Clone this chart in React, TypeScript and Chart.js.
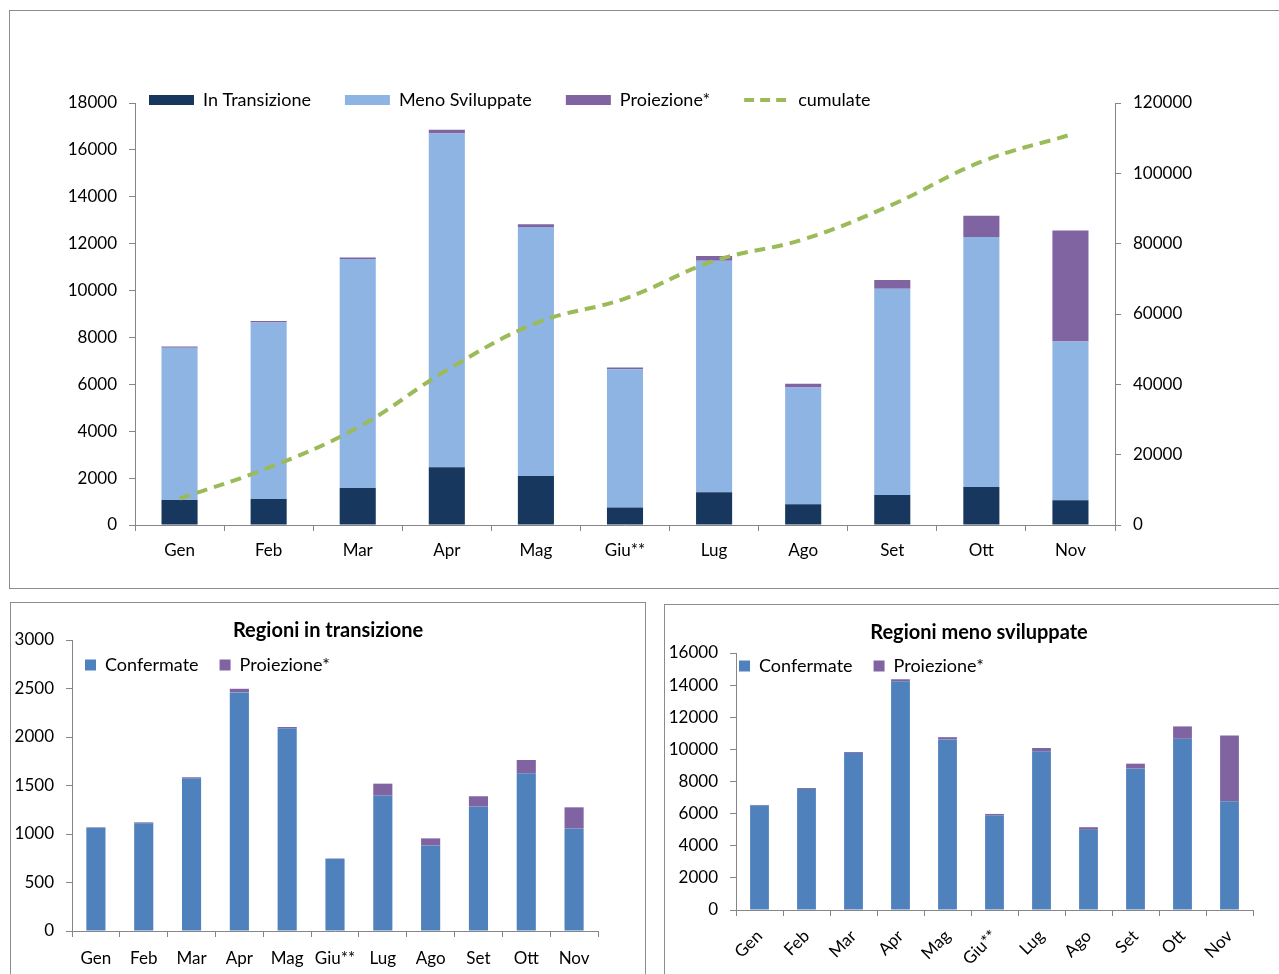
import React, { useEffect, useRef } from 'react';
import { Chart, registerables } from 'chart.js';

Chart.register(...registerables);

// ---------------- DATA ----------------
const months = ['Gen', 'Feb', 'Mar', 'Apr', 'Mag', 'Giu**', 'Lug', 'Ago', 'Set', 'Ott', 'Nov'];

// top chart
const inTransizione = [1065, 1110, 1575, 2460, 2090, 745, 1395, 880, 1282, 1626, 1055];
const menoSviluppate = [6500, 7530, 9770, 14240, 10620, 5900, 9880, 4990, 8800, 10660, 6770];
const proiezioneTot = [45, 60, 70, 160, 115, 70, 200, 160, 370, 900, 4740];
const cumulate = [7500, 16300, 27700, 44000, 57400, 64400, 75100, 81200, 91100, 103300, 111000];

// bottom-left: Regioni in transizione
const transConfermate = [1065, 1110, 1575, 2460, 2090, 745, 1395, 880, 1282, 1626, 1055];
const transProiezione = [5, 10, 10, 37, 13, 3, 124, 75, 107, 137, 220];

// bottom-right: Regioni meno sviluppate
const menoConfermate = [6500, 7530, 9770, 14240, 10620, 5900, 9880, 4990, 8800, 10660, 6770];
const menoProiezione = [40, 60, 60, 125, 140, 80, 205, 165, 310, 770, 4100];

const leftTicksTop = { min: 0, max: 18000, step: 2000 };
const rightTicksTop = { min: 0, max: 120000, step: 20000 };
const ticksBL = { min: 0, max: 3000, step: 500 };
const ticksBR = { min: 0, max: 16000, step: 2000 };

// ---------------- STYLE ----------------
const FONT = 'Lato, "Open Sans", sans-serif';
const AX = '#868686';
const C_TRANS = '#17375E';
const C_MENO = '#8EB4E3';
const C_PROJ = '#8064A2';
const C_GREEN = '#9BBB59';
const C_CONF = '#4F81BD';

function fixedLegend(left: number, centerY: number, pad: number, fs: number, titleShift = 0) {
  return {
    id: 'fixedLegend',
    beforeLayout(chart: any) {
      const lg = chart.legend;
      if (lg && !lg.__patched) {
        const orig = lg.fit.bind(lg);
        lg.fit = function () {
          orig();
          this.height = 0;
        };
        lg.__patched = true;
      }
    },
    beforeDraw(chart: any) {
      const lg = chart.legend;
      if (lg) {
        lg.left = left - pad;
        lg.right = chart.width;
        lg.top = centerY - pad - fs / 2;
        lg.bottom = lg.top + 60;
      }
      const tb = chart.titleBlock;
      if (tb && titleShift) {
        tb.left = titleShift * 2;
        tb.right = chart.width;
      }
    },
  };
}

const numCb = (v: any) => String(v);

function axisGrid() {
  return {
    display: true,
    drawOnChartArea: false,
    drawTicks: true,
    tickLength: 6,
    color: AX,
    lineWidth: 1,
  };
}

function ChartCanvas({ make, left, top, width, height }: any) {
  const ref = useRef<HTMLCanvasElement>(null);
  useEffect(() => {
    const chart = new Chart(ref.current as HTMLCanvasElement, make());
    return () => chart.destroy();
  }, []);
  return (
    <canvas
      ref={ref}
      width={width}
      height={height}
      style={{ position: 'absolute', left, top, width, height }}
    />
  );
}

function makeTop(): any {
  const fs = 17;
  const lfs = 18;
  return {
    type: 'bar',
    data: {
      labels: months,
      datasets: [
        { label: 'In Transizione', data: inTransizione, backgroundColor: C_TRANS, yAxisID: 'y', order: 1 },
        { label: 'Meno Sviluppate', data: menoSviluppate, backgroundColor: C_MENO, yAxisID: 'y', order: 1 },
        { label: 'Proiezione*', data: proiezioneTot, backgroundColor: C_PROJ, yAxisID: 'y', order: 1 },
        {
          type: 'line',
          label: 'cumulate',
          data: cumulate,
          yAxisID: 'y1',
          borderColor: C_GREEN,
          backgroundColor: C_GREEN,
          borderWidth: 4,
          borderDash: [11, 7],
          pointRadius: 0,
          tension: 0.4,
          order: 0,
        },
      ],
    },
    options: {
      responsive: false,
      animation: false,
      categoryPercentage: 1,
      barPercentage: 0.405,
      layout: { padding: { top: 92, left: 0, right: 0, bottom: 0 } },
      plugins: {
        tooltip: { enabled: false },
        legend: {
          display: true,
          position: 'top',
          align: 'start',
          labels: {
            font: { family: FONT, size: lfs },
            color: '#000',
            padding: 34,
            usePointStyle: true,
            pointStyleWidth: 45,
            boxHeight: 10,
            generateLabels: (chart: any) => {
              const items = (Chart.defaults.plugins.legend.labels as any).generateLabels(chart);
              items.sort((a: any, b: any) => a.datasetIndex - b.datasetIndex);
              return items.map((it: any) => {
                const isLine = it.datasetIndex === 3;
                return {
                  ...it,
                  pointStyle: isLine ? 'line' : 'rect',
                  lineWidth: isLine ? 4 : 0,
                  lineDash: isLine ? [10, 6] : [],
                  strokeStyle: isLine ? C_GREEN : it.strokeStyle,
                };
              });
            },
          },
        },
      },
      scales: {
        x: {
          stacked: true,
          offset: true,
          grid: { ...axisGrid(), offset: true },
          border: { display: true, color: AX, width: 1 },
          ticks: { font: { family: FONT, size: fs }, color: '#000', padding: 9, maxRotation: 0, autoSkip: false },
          afterFit: (s: any) => { s.height = 62; },
        },
        y: {
          stacked: true,
          position: 'left',
          min: leftTicksTop.min,
          max: leftTicksTop.max,
          grid: axisGrid(),
          border: { display: true, color: AX, width: 1 },
          ticks: { stepSize: leftTicksTop.step, font: { family: FONT, size: fs }, color: '#000', padding: 12, callback: numCb },
          afterFit: (s: any) => { s.width = 125; },
        },
        y1: {
          stacked: false,
          position: 'right',
          min: rightTicksTop.min,
          max: rightTicksTop.max,
          grid: axisGrid(),
          border: { display: true, color: AX, width: 1 },
          ticks: { stepSize: rightTicksTop.step, font: { family: FONT, size: fs }, color: '#000', padding: 12, callback: numCb },
          afterFit: (s: any) => { s.width = 164; },
        },
      },
    },
    plugins: [fixedLegend(139, 89, 34, lfs)],
  };
}

function makeSmall(opts: any): any {
  const fs = 17;
  const lfs = 18;
  return {
    type: 'bar',
    data: {
      labels: months,
      datasets: [
        { label: 'Confermate', data: opts.conf, backgroundColor: C_CONF, yAxisID: 'y' },
        { label: 'Proiezione*', data: opts.proj, backgroundColor: C_PROJ, yAxisID: 'y' },
      ],
    },
    options: {
      responsive: false,
      animation: false,
      categoryPercentage: 1,
      barPercentage: 0.4,
      layout: { padding: { top: 0, left: 0, right: 0, bottom: 0 } },
      plugins: {
        tooltip: { enabled: false },
        title: {
          display: true,
          text: opts.title,
          color: '#000',
          font: { family: FONT, size: 20, weight: 'bold', lineHeight: 0.9 },
          padding: { top: opts.titleTop, bottom: opts.titleBottom },
        },
        legend: {
          display: true,
          position: 'top',
          align: 'start',
          labels: {
            font: { family: FONT, size: lfs },
            color: '#000',
            padding: 21,
            boxWidth: 11,
            boxHeight: 11,
          },
        },
      },
      scales: {
        x: {
          stacked: true,
          offset: true,
          grid: { ...axisGrid(), offset: true },
          border: { display: true, color: AX, width: 1 },
          ticks: {
            font: { family: FONT, size: fs },
            color: '#000',
            padding: opts.xPad,
            minRotation: opts.rot,
            maxRotation: opts.rot,
            autoSkip: false,
          },
          afterFit: (s: any) => { s.height = opts.xHeight; },
        },
        y: {
          stacked: true,
          min: opts.ticks.min,
          max: opts.ticks.max,
          grid: axisGrid(),
          border: { display: true, color: AX, width: 1 },
          ticks: { stepSize: opts.ticks.step, font: { family: FONT, size: fs }, color: '#000', padding: 12, callback: numCb },
          afterFit: (s: any) => { s.width = opts.yWidth; },
        },
        yR: {
          position: 'right',
          display: true,
          grid: { display: false },
          border: { display: false },
          ticks: { display: false },
          afterFit: (s: any) => { s.width = opts.rightSpace; },
        },
      },
    },
    plugins: [fixedLegend(74, opts.legendY, 21, lfs, opts.titleShift)],
  };
}

const boxStyle = (left: number, top: number, width: number, height: number): React.CSSProperties => ({
  position: 'absolute',
  left,
  top,
  width,
  height,
  border: '1px solid #8c8c8c',
  boxSizing: 'border-box',
  background: '#fff',
});

export default function App() {
  return (
    <div
      style={{
        position: 'absolute',
        left: 0,
        top: 0,
        width: 1279,
        height: 974,
        overflow: 'hidden',
        background: '#fff',
      }}
    >
      <div style={boxStyle(9, 10, 1290, 579)} />
      <div style={boxStyle(10, 602, 636, 400)} />
      <div style={boxStyle(664, 604, 640, 400)} />
      <ChartCanvas make={makeTop} left={10} top={11} width={1269} height={576} />
      <ChartCanvas
        make={() =>
          makeSmall({
            conf: transConfermate,
            proj: transProiezione,
            title: 'Regioni in transizione',
            ticks: ticksBL,
            rightSpace: 47,
            titleTop: 19,
            titleBottom: 0,
            yWidth: 61,
            xHeight: 43,
            xPad: 11,
            rot: 0,
            legendY: 62,
            titleShift: 0,
          })
        }
        left={11}
        top={603}
        width={634}
        height={371}
      />
      <ChartCanvas
        make={() =>
          makeSmall({
            conf: menoConfermate,
            proj: menoProiezione,
            title: 'Regioni meno sviluppate',
            ticks: ticksBR,
            rightSpace: 26,
            titleTop: 19,
            titleBottom: 11,
            yWidth: 71,
            xHeight: 64,
            xPad: 10,
            rot: 45,
            legendY: 61,
            titleShift: 7,
          })
        }
        left={665}
        top={605}
        width={614}
        height={369}
      />
    </div>
  );
}
